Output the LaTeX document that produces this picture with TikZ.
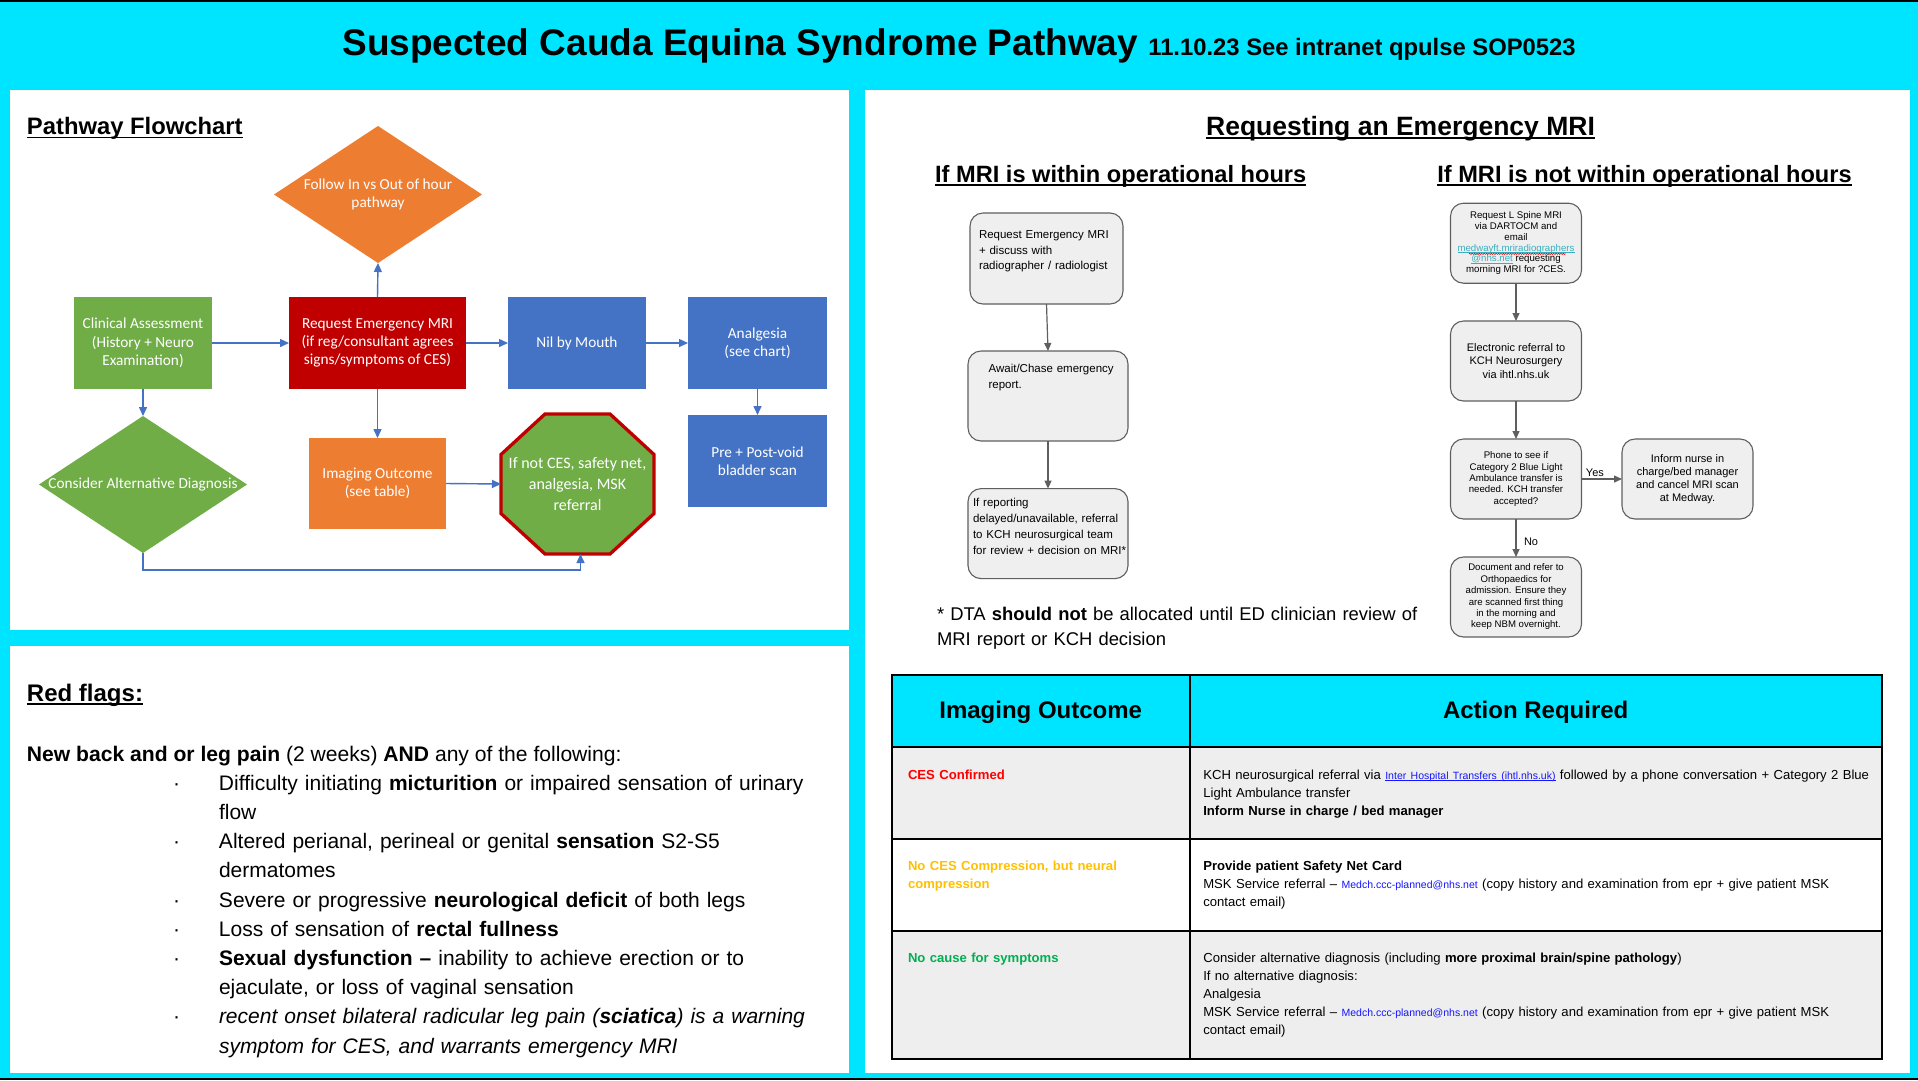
\documentclass[tikz,border=0pt]{standalone}
\usepackage{fontspec}
\setmainfont{Liberation Sans}
\newfontfamily\calib{Carlito}
\usetikzlibrary{shapes.geometric,arrows.meta,calc,decorations.pathmorphing}
\definecolor{bgc}{HTML}{00E5FF}
\definecolor{fcgreen}{HTML}{70AD47}
\definecolor{fcred}{HTML}{C00000}
\definecolor{fcorange}{HTML}{ED7D31}
\definecolor{fcblue}{HTML}{4472C4}
\definecolor{boxgray}{HTML}{EFEFEF}
\definecolor{linegray}{HTML}{5F5F5F}
\definecolor{rowgray}{HTML}{EEEEEE}
\definecolor{linkteal}{HTML}{3AAFC0}
\definecolor{linkblue}{HTML}{1515FF}
\definecolor{amber}{HTML}{FFC000}
\definecolor{cesgreen}{HTML}{00B050}
\definecolor{cesred}{HTML}{FF0000}
\newsavebox\ulbox
\newcommand\ulx[1]{\sbox\ulbox{#1}\rlap{\rule[-0.16em]{\wd\ulbox}{0.075em}}\usebox\ulbox}
\newcommand\fs[2]{\fontsize{#1pt}{#2pt}\selectfont}
\newcommand\bul{\leavevmode\llap{\makebox[46pt][l]{·}}}
\newcommand\tlink[1]{{\color{linkteal}\ulx{#1}}}
\newcommand\blink[1]{{\fs{10.5}{13}\color{linkblue}\ulx{#1}}}
\newcommand\mlink[1]{{\fs{10.5}{13}\color{linkblue}#1}}
\begin{document}
\begin{tikzpicture}[x=1pt,y=-1pt,
  every node/.style={inner sep=0pt,outer sep=0pt},
  fcbox/.style={rectangle,text=white,font=\calib\fs{15.3}{18.3},align=center},
  fclbl/.style={text=white,font=\calib\fs{15.3}{18.3},align=center},
  fcdia/.style={diamond,minimum width=208pt,minimum height=137pt},
  fcarrow/.style={draw=fcblue,line width=1.4pt,-{Triangle[length=9pt,width=8pt]}},
  gbox/.style={rectangle,draw=linegray,fill=boxgray,line width=1.1pt,rounded corners=13pt,align=center},
  garrow/.style={draw=linegray,line width=1.2pt,-{Triangle[length=8pt,width=7pt]}},
  tline/.style={line width=2pt,line cap=rect},
  ltext/.style={anchor=base west,align=left}
]
\useasboundingbox (0,0) rectangle (1918,1080);
\fill[bgc] (0,0) rectangle (1918,1080);
\fill[black] (0,0) rectangle (1918,1.5);
\fill[black] (0,1077.5) rectangle (1918,1080);
\fill[white] (10,90) rectangle (848.5,630);
\fill[white] (10,646) rectangle (848.5,1072.5);
\fill[white] (864.5,90) rectangle (1910,1072.5);

% title
\node[anchor=base,font=\bfseries\fs{37}{44}] (title) at (959,55) {Suspected Cauda Equina Syndrome Pathway {\fs{23.8}{28}11.10.23 See intranet qpulse SOP0523}};

% ---------- Pathway flowchart ----------
\node[anchor=base west,font=\bfseries\fs{23.8}{28}] (pfh) at (27,134.5) {\ulx{Pathway Flowchart}};
\node[fcdia,fill=fcorange] (fd) at (378,194.5) {};
\node[fclbl] (fdt) at (fd.center) {Follow In vs Out of hour\\pathway};
\node[fcbox,fill=fcgreen,minimum width=138pt,minimum height=92pt] (ca) at (143,343) {Clinical Assessment\\(History + Neuro\\Examination)};
\node[fcbox,fill=fcred,minimum width=177pt,minimum height=92pt] (req) at (377.5,343) {Request Emergency MRI\\(if reg/consultant agrees\\signs/symptoms of CES)};
\node[fcbox,fill=fcblue,minimum width=138pt,minimum height=92pt] (nbm) at (577,343) {Nil by Mouth};
\node[fcbox,fill=fcblue,minimum width=139pt,minimum height=92pt] (ana) at (757.5,343) {Analgesia\\(see chart)};
\node[fcdia,fill=fcgreen] (cad) at (143,484.5) {};
\node[fclbl] (cadt) at (cad.center) {Consider Alternative Diagnosis};
\node[fcbox,fill=fcorange,minimum width=137pt,minimum height=91pt] (io) at (377.5,483.5) {Imaging Outcome\\(see table)};
\node[minimum width=153pt,minimum height=140pt] (oct) at (577.5,484) {};
\filldraw[fill=fcgreen,draw=fcred,line width=3.3pt,line join=miter]
  ($(oct.north west)+(44,0)$) -- ($(oct.north east)+(-44,0)$) --
  ($(oct.north east)+(0,40.5)$) -- ($(oct.south east)+(0,-40.5)$) --
  ($(oct.south east)+(-44,0)$) -- ($(oct.south west)+(44,0)$) --
  ($(oct.south west)+(0,-40.5)$) -- ($(oct.north west)+(0,40.5)$) -- cycle;
\node[fclbl,font=\calib\fs{16}{21}] (octt) at (oct.center) {If not CES, safety net,\\analgesia, MSK\\referral};
\node[fcbox,fill=fcblue,minimum width=139pt,minimum height=92pt] (bs) at (757.5,461) {Pre + Post-void\\bladder scan};
\coordinate (octin) at ($(oct.south)+(3,0)$);
\draw[fcarrow] (ca.east) -- (req.west);
\draw[fcarrow] (req.east) -- (nbm.west);
\draw[fcarrow] (nbm.east) -- (ana.west);
\draw[fcarrow] (req.north) -- (fd.south);
\draw[fcarrow] (ca.south) -- (cad.north);
\draw[fcarrow] (req.south) -- (io.north);
\draw[fcarrow] (io.east) -- (oct.west);
\draw[fcarrow] (ana.south) -- (bs.north);
\draw[fcarrow] (cad.south) -- ++(0,17) -| (octin);

% ---------- Red flags ----------
\node[anchor=base west,font=\bfseries\fs{24}{28}] (rfh) at (27,701) {\ulx{Red flags:}};
\node[anchor=base west,font=\fs{21.1}{29.2}] (rfi) at (27,761) {\textbf{New back and or leg pain} (2 weeks) \textbf{AND} any of the following:};
\node[ltext,text width=640pt,font=\fs{21}{29.2}] (rfl) at (219,790.2) {%
\bul Difficulty initiating \textbf{micturition} or impaired sensation of urinary\\
flow\\
\bul Altered perianal, perineal or genital \textbf{sensation} S2-S5\\
dermatomes\\
\bul Severe or progressive \textbf{neurological deficit} of both legs\\
\bul Loss of sensation of \textbf{rectal fullness}\\
\bul \textbf{Sexual dysfunction –} inability to achieve erection or to\\
ejaculate, or loss of vaginal sensation\\
\bul \textit{recent onset bilateral radicular leg pain (\textbf{sciatica}) is a warning}\\
\textit{symptom for CES, and warrants emergency MRI}};

% ---------- Requesting an Emergency MRI ----------
\node[anchor=base,font=\bfseries\fs{26.5}{30}] (reqh) at (1400.5,135) {\ulx{Requesting an Emergency MRI}};
\node[anchor=base,font=\bfseries\fs{23.6}{28}] (inh) at (1120.7,182) {\ulx{If MRI is within operational hours}};
\node[anchor=base,font=\bfseries\fs{23.6}{28}] (outh) at (1644.5,182) {\ulx{If MRI is not within operational hours}};

\node[gbox,minimum width=153pt,minimum height=91pt] (b1) at (1046.5,258.5) {};
\node[ltext,text width=150pt,font=\fs{11.5}{15.5}] (b1t) at (979,238.5) {Request Emergency MRI\\+ discuss with\\radiographer / radiologist};
\node[gbox,minimum width=160pt,minimum height=90pt] (b2) at (1048,396) {};
\node[ltext,text width=150pt,font=\fs{11.5}{16}] (b2t) at (988.6,372.5) {Await/Chase emergency\\report.};
\node[gbox,minimum width=160pt,minimum height=90pt] (b3) at (1048,533.6) {};
\node[ltext,text width=170pt,font=\fs{11.5}{16}] (b3t) at (973,506.5) {If reporting\\delayed/unavailable, referral\\to KCH neurosurgical team\\for review + decision on MRI*};
\draw[garrow] (b1.south) -- (b2.north);
\draw[garrow] (b2.south) -- (b3.north);
\node[ltext,text width=520pt,font=\fs{18.4}{25}] (foot) at (937,620.5) {* DTA \textbf{should not} be allocated until ED clinician review of\\MRI report or KCH decision};

\node[gbox,minimum width=131pt,minimum height=80pt,font=\fs{9.66}{10.8}] (oa) at (1516,243.2) {Request L Spine MRI\\via DARTOCM and\\email\\\tlink{medwayft.mriradiographers}\\\tlink{@nhs.net} requesting\\morning MRI for ?CES.};
\draw[red,line width=0.6pt,decorate,decoration={snake,amplitude=0.6pt,segment length=2.4pt}] (1469,253.8) -- (1566,253.8);
\node[gbox,minimum width=131pt,minimum height=80pt,font=\fs{11}{13.5}] (ob) at (1516,361) {Electronic referral to\\KCH Neurosurgery\\via ihtl.nhs.uk};
\node[gbox,minimum width=131pt,minimum height=80pt,font=\fs{9.66}{11.45}] (oc) at (1516,479) {Phone to see if\\Category 2 Blue Light\\Ambulance transfer is\\needed. KCH transfer\\accepted?};
\node[gbox,minimum width=131pt,minimum height=80pt,font=\fs{11}{13}] (od) at (1687.5,479) {Inform nurse in\\charge/bed manager\\and cancel MRI scan\\at Medway.};
\node[gbox,minimum width=131pt,minimum height=80pt,font=\fs{9.6}{11.4}] (oe) at (1516,597) {Document and refer to\\Orthopaedics for\\admission. Ensure they\\are scanned first thing\\in the morning and\\keep NBM overnight.};
\draw[garrow] (oa.south) -- (ob.north);
\draw[garrow] (ob.south) -- (oc.north);
\draw[garrow] (oc.east) -- node[above=2pt,pos=0.33,font=\fs{11}{13}] (yes) {Yes} (od.west);
\draw[garrow] (oc.south) -- node[right=8pt,pos=0.6,font=\fs{11}{13}] (no) {No} (oe.north);

% ---------- Table ----------
\fill[bgc] (892,674.5) rectangle (1882,746.5);
\fill[rowgray] (892,746.5) rectangle (1882,839);
\fill[white] (892,839) rectangle (1882,931);
\fill[rowgray] (892,931) rectangle (1882,1059);
\draw[tline] (892,674.5) rectangle (1882,1059);
\draw[tline] (892,746.5) -- (1882,746.5);
\draw[tline] (892,839) -- (1882,839);
\draw[tline] (892,931) -- (1882,931);
\draw[tline] (1189.5,674.5) -- (1189.5,1059);
\node[anchor=base,font=\bfseries\fs{24}{28}] (th1) at (1040.7,718.5) {Imaging Outcome};
\node[anchor=base,font=\bfseries\fs{24}{28}] (th2) at (1535.7,718.5) {Action Required};

\node[ltext,text width=270pt,text=cesred,font=\bfseries\fs{13.1}{18}] (r1a) at (908,779.5) {CES Confirmed};
\node[ltext,text width=690pt,font=\fs{13.1}{17.8}] (r1b) at (1203.3,779.5) {KCH neurosurgical referral via \blink{Inter Hospital Transfers (ihtl.nhs.uk)} followed by a phone conversation + Category 2 Blue\\Light Ambulance transfer\\\textbf{Inform Nurse in charge / bed manager}};

\node[ltext,text width=270pt,text=amber,font=\bfseries\fs{13.1}{18.3}] (r2a) at (908,870) {No CES Compression, but neural\\compression};
\node[ltext,text width=690pt,font=\fs{13.1}{18.3}] (r2b) at (1203.3,870) {\textbf{Provide patient Safety Net Card}\\MSK Service referral – \mlink{Medch.ccc-planned@nhs.net} (copy history and examination from epr + give patient MSK\\contact email)};

\node[ltext,text width=270pt,text=cesgreen,font=\bfseries\fs{13.1}{18}] (r3a) at (908,962.8) {No cause for symptoms};
\node[ltext,text width=690pt,font=\fs{13.1}{18}] (r3b) at (1203.3,962.8) {Consider alternative diagnosis (including \textbf{more proximal brain/spine pathology})\\If no alternative diagnosis:\\Analgesia\\MSK Service referral – \mlink{Medch.ccc-planned@nhs.net} (copy history and examination from epr + give patient MSK\\contact email)};
\end{tikzpicture}
\end{document}
